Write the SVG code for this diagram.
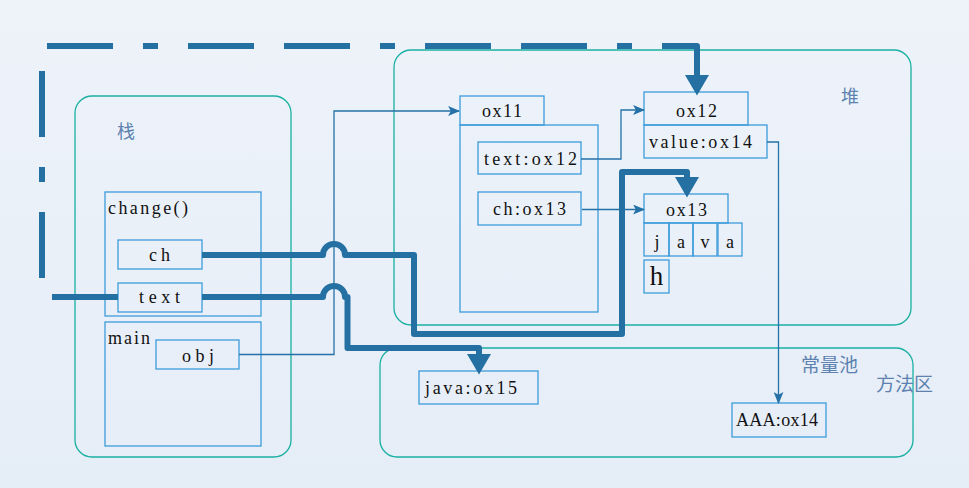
<svg xmlns="http://www.w3.org/2000/svg" width="969" height="488" viewBox="0 0 969 488">
<defs>
<linearGradient id="bg" x1="0" y1="0" x2="0" y2="1">
<stop offset="0" stop-color="#EEF3FA"/>
<stop offset="1" stop-color="#E5EDF7"/>
</linearGradient>
<marker id="big" markerUnits="userSpaceOnUse" markerWidth="24" markerHeight="24" refX="0" refY="10" orient="auto" viewBox="0 0 18 20">
<path d="M0,0 L17,10 L0,20 z" fill="#2470A3"/>
</marker>
<marker id="small" markerUnits="userSpaceOnUse" markerWidth="12" markerHeight="10" refX="10" refY="4.5" orient="auto" viewBox="0 0 11 9">
<path d="M0,0 L11,4.5 L0,9 L2.5,4.5 z" fill="#2471A8"/>
</marker>
</defs>
<style>
.area{fill:none;stroke:#1AB0A2;stroke-width:1.3}
.box{fill:none;stroke:#3C9BDB;stroke-width:1.3}
.t{font-family:"Liberation Serif",serif;font-size:18px;fill:#111}
.c{text-anchor:middle}
.zh{font-family:"Noto Sans CJK SC",sans-serif;font-size:18px;fill:#5D82B0}
.thin{fill:none;stroke:#2471A8;stroke-width:1.3}
.thick{fill:none;stroke:#2470A3;stroke-width:6;stroke-linejoin:round}
</style>
<rect width="969" height="488" fill="url(#bg)"/>

<g id="stack">
<rect class="area" x="75" y="96" width="216" height="361" rx="17"/>
<text class="zh" x="117" y="138">栈</text>
</g>
<g id="heap">
<rect class="area" x="394" y="50" width="517" height="275" rx="17"/>
<text class="zh" x="841" y="103">堆</text>
</g>
<g id="method-area">
<rect class="area" x="380" y="348" width="533" height="109" rx="17"/>
<text class="zh" x="801" y="372" style="font-size:19px">常量池</text>
<text class="zh" x="876" y="391" style="font-size:19px">方法区</text>
</g>

<g id="change-frame">
<rect class="box" x="105" y="192" width="156" height="124"/>
<text class="t" x="108" y="214" textLength="80" lengthAdjust="spacing">change()</text>
</g>
<g id="ch">
<rect class="box" x="118" y="240" width="84" height="29"/>
<text class="t" x="149" y="261" textLength="21" lengthAdjust="spacing">ch</text>
</g>
<g id="text">
<rect class="box" x="118" y="283" width="84" height="29"/>
<text class="t" x="139" y="303" textLength="41" lengthAdjust="spacing">text</text>
</g>
<g id="main-frame">
<rect class="box" x="105" y="322" width="156" height="124"/>
<text class="t" x="108" y="344" textLength="42" lengthAdjust="spacing">main</text>
</g>
<g id="obj">
<rect class="box" x="156" y="340" width="83" height="29"/>
<text class="t" x="182" y="362" textLength="32" lengthAdjust="spacing">obj</text>
</g>

<g id="ox11">
<rect class="box" x="460" y="96" width="84" height="29"/>
<text class="t" x="482" y="117" textLength="40" lengthAdjust="spacing">ox11</text>
<rect class="box" x="460" y="125" width="138" height="187"/>
</g>
<g id="text-ox12">
<rect class="box" x="478" y="142" width="103" height="32"/>
<text class="t" x="484" y="165" textLength="93" lengthAdjust="spacing">text:ox12</text>
</g>
<g id="ch-ox13">
<rect class="box" x="478" y="192" width="103" height="33"/>
<text class="t" x="493" y="215" textLength="73" lengthAdjust="spacing">ch:ox13</text>
</g>

<g id="ox12">
<rect class="box" x="644" y="92" width="104" height="33"/>
<text class="t" x="676" y="117" textLength="41" lengthAdjust="spacing">ox12</text>
<rect class="box" x="644" y="125" width="123" height="33"/>
<text class="t" x="649" y="148" textLength="103" lengthAdjust="spacing">value:ox14</text>
</g>

<g id="ox13">
<rect class="box" x="644" y="194" width="84" height="29"/>
<text class="t" x="666" y="216" textLength="41" lengthAdjust="spacing">ox13</text>
<rect class="box" x="644" y="223" width="25" height="33"/>
<rect class="box" x="669" y="223" width="24" height="33"/>
<rect class="box" x="693" y="223" width="24" height="33"/>
<rect class="box" x="718" y="223" width="24" height="33"/>
<text class="t c" x="657" y="248">j</text>
<text class="t c" x="681" y="248">a</text>
<text class="t c" x="705" y="248">v</text>
<text class="t c" x="730" y="248">a</text>
</g>
<g id="h">
<rect class="box" x="644" y="260" width="25" height="33"/>
<text x="656.5" y="285" text-anchor="middle" style="font-family:'Liberation Serif',serif;font-size:27px;fill:#111">h</text>
</g>

<g id="java-ox15">
<rect class="box" x="419" y="371" width="119" height="33"/>
<text class="t" x="425" y="394" textLength="92" lengthAdjust="spacing">java:ox15</text>
</g>
<g id="AAA-ox14">
<rect class="box" x="732" y="403" width="94" height="34"/>
<text class="t" x="736" y="426" textLength="82" lengthAdjust="spacing">AAA:ox14</text>
</g>

<g id="connectors">
<path class="thin" d="M239,354.5 H334 V111 H459" marker-end="url(#small)"/>
<path class="thin" d="M581,159 H621 V110 H644" marker-end="url(#small)"/>
<path class="thin" d="M582,209.5 H644" marker-end="url(#small)"/>
<path class="thin" d="M767,142 H778.5 V403" marker-end="url(#small)"/>
<path class="thick" d="M42,278 V46 H697 V75" stroke-dasharray="66 30 15 30 66 30" marker-end="url(#big)"/>
<path class="thick" d="M52,297 H118"/>
<path class="thick" d="M202,255 H323 A11,11 0 0 1 345,255 H414 V334 H622 V172 H687 V177" marker-end="url(#big)"/>
<path class="thick" d="M202,297 H323 A11,11 0 0 1 345,297 H347.5 V348 H479 V354" marker-end="url(#big)"/>
</g>
</svg>
